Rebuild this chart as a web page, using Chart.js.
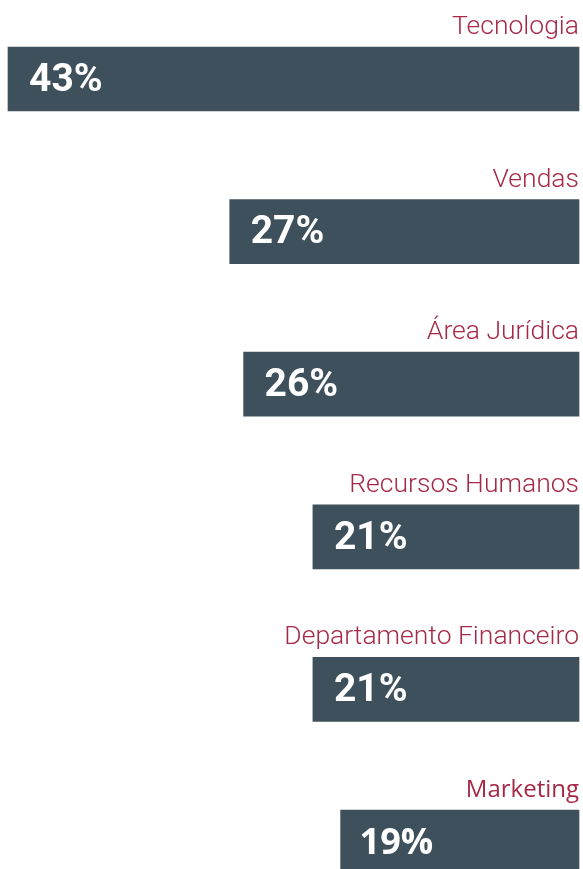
<!DOCTYPE html>
<html><head><meta charset="utf-8">
<script src="https://cdn.jsdelivr.net/npm/chart.js@4"></script>
<style>html,body{margin:0;padding:0;background:#fff;overflow:hidden}#wrap{width:583px;height:869px;position:relative}</style>
</head><body><div id="wrap"><canvas id="c"></canvas></div>
<script>
const categories = ['Tecnologia','Vendas','Área Jurídica','Recursos Humanos','Departamento Financeiro','Marketing'];
const values = [43,27,26,21,21,19];
const valueLabels = ['43%','27%','26%','21%','21%','19%'];
const xMin = 1.8;
const xMax = 43;
const labelFonts = ['300 26.5px Roboto','300 26.5px Roboto','300 26.5px Roboto','300 26.5px Roboto','300 26.5px Roboto','400 24px "Open Sans"'];
const valueFonts = ['700 39px Roboto','700 39px Roboto','700 39px Roboto','700 39px Roboto','700 39px Roboto','700 36px "Open Sans"'];

const labelPlugin = {
  id: 'labels',
  afterDatasetsDraw(chart) {
    const ctx = chart.ctx;
    const meta = chart.getDatasetMeta(0);
    meta.data.forEach((bar, i) => {
      const left = Math.min(bar.x, bar.base);
      const right = Math.max(bar.x, bar.base);
      const top = bar.y - bar.height / 2;
      ctx.save();
      ctx.fillStyle = '#a62a48';
      ctx.font = labelFonts[i];
      ctx.textAlign = 'right';
      ctx.textBaseline = 'alphabetic';
      ctx.fillText(categories[i], right, top - 13);
      ctx.fillStyle = '#ffffff';
      ctx.font = valueFonts[i];
      ctx.textAlign = 'left';
      ctx.textBaseline = 'middle';
      ctx.fillText(valueLabels[i], left + (i === 5 ? 19 : 21), bar.y + 2);
      ctx.restore();
    });
  }
};

new Chart(document.getElementById('c'), {
  type: 'bar',
  data: {
    labels: categories,
    datasets: [{
      data: values,
      base: xMin,
      backgroundColor: '#3e505b',
      borderWidth: 0,
      barThickness: 64,
      clip: false
    }]
  },
  options: {
    indexAxis: 'y',
    responsive: true,
    maintainAspectRatio: false,
    animation: false,
    layout: { padding: { left: 8, right: 4, top: 79, bottom: 27 } },
    plugins: { legend: { display: false }, tooltip: { enabled: false } },
    scales: {
      x: { type: 'linear', reverse: true, min: xMin, max: xMax, display: false },
      y: { type: 'category', offset: false, display: false }
    }
  },
  plugins: [labelPlugin]
});
</script></body></html>
